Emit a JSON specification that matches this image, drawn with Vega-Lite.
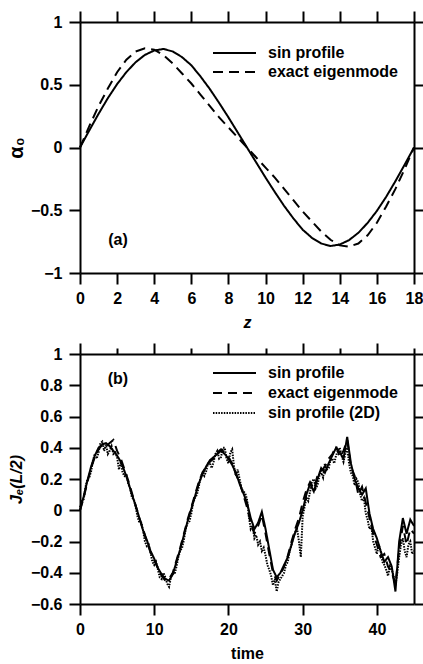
{
  "$schema": "https://vega.github.io/schema/vega-lite/v6.json",
  "background": "white",
  "padding": {"left": 6, "top": 10, "right": 0, "bottom": 0},
  "config": {
    "font": "Liberation Sans",
    "view": {"stroke": null},
    "axis": {
      "domainColor": "black", "domainWidth": 2,
      "tickColor": "black", "tickWidth": 2, "tickSize": 11,
      "labelFont": "Liberation Sans", "labelFontSize": 16, "labelFontWeight": "bold", "labelColor": "black",
      "titleFont": "Liberation Sans", "titleFontSize": 16, "titleFontWeight": "bold", "titleColor": "black",
      "grid": false, "labelFlush": false, "labelOverlap": false, "format": "~f"
    },
    "axisX": {"labelPadding": 6, "titlePadding": 8},
    "axisY": {"labelPadding": 7, "titlePadding": 6},
    "legend": {
      "orient": "none", "title": null, "symbolType": "stroke", "symbolSize": 1849,
      "symbolStrokeWidth": 2, "symbolStrokeColor": "black",
      "labelFont": "Liberation Sans", "labelFontSize": 16, "labelFontWeight": "bold", "labelColor": "black",
      "labelOffset": 11, "rowPadding": 0, "padding": 0
    }
  },
  "datasets": {
    "top": [
      {"z":0,"v":0,"s":"sin profile"},{"z":0.5,"v":0.136,"s":"sin profile"},{"z":1,"v":0.268,"s":"sin profile"},{"z":1.5,"v":0.393,"s":"sin profile"},{"z":2,"v":0.505,"s":"sin profile"},{"z":2.5,"v":0.601,"s":"sin profile"},{"z":3,"v":0.68,"s":"sin profile"},{"z":3.5,"v":0.738,"s":"sin profile"},{"z":4,"v":0.773,"s":"sin profile"},{"z":4.5,"v":0.785,"s":"sin profile"},{"z":5,"v":0.765,"s":"sin profile"},{"z":5.5,"v":0.72,"s":"sin profile"},{"z":6,"v":0.655,"s":"sin profile"},{"z":6.5,"v":0.565,"s":"sin profile"},{"z":7,"v":0.465,"s":"sin profile"},{"z":7.5,"v":0.355,"s":"sin profile"},{"z":8,"v":0.24,"s":"sin profile"},{"z":8.5,"v":0.12,"s":"sin profile"},{"z":9,"v":0,"s":"sin profile"},{"z":9.5,"v":-0.12,"s":"sin profile"},{"z":10,"v":-0.24,"s":"sin profile"},{"z":10.5,"v":-0.355,"s":"sin profile"},{"z":11,"v":-0.465,"s":"sin profile"},{"z":11.5,"v":-0.565,"s":"sin profile"},{"z":12,"v":-0.655,"s":"sin profile"},{"z":12.5,"v":-0.72,"s":"sin profile"},{"z":13,"v":-0.765,"s":"sin profile"},{"z":13.5,"v":-0.785,"s":"sin profile"},{"z":14,"v":-0.773,"s":"sin profile"},{"z":14.5,"v":-0.738,"s":"sin profile"},{"z":15,"v":-0.68,"s":"sin profile"},{"z":15.5,"v":-0.601,"s":"sin profile"},{"z":16,"v":-0.505,"s":"sin profile"},{"z":16.5,"v":-0.393,"s":"sin profile"},{"z":17,"v":-0.268,"s":"sin profile"},{"z":17.5,"v":-0.136,"s":"sin profile"},{"z":18,"v":0,"s":"sin profile"},
      {"z":0,"v":0,"s":"exact eigenmode"},{"z":0.5,"v":0.17,"s":"exact eigenmode"},{"z":1,"v":0.33,"s":"exact eigenmode"},{"z":1.5,"v":0.47,"s":"exact eigenmode"},{"z":2,"v":0.6,"s":"exact eigenmode"},{"z":2.5,"v":0.7,"s":"exact eigenmode"},{"z":3,"v":0.765,"s":"exact eigenmode"},{"z":3.5,"v":0.79,"s":"exact eigenmode"},{"z":4,"v":0.78,"s":"exact eigenmode"},{"z":4.5,"v":0.735,"s":"exact eigenmode"},{"z":5,"v":0.67,"s":"exact eigenmode"},{"z":5.5,"v":0.59,"s":"exact eigenmode"},{"z":6,"v":0.51,"s":"exact eigenmode"},{"z":6.5,"v":0.42,"s":"exact eigenmode"},{"z":7,"v":0.33,"s":"exact eigenmode"},{"z":7.5,"v":0.24,"s":"exact eigenmode"},{"z":8,"v":0.16,"s":"exact eigenmode"},{"z":8.5,"v":0.08,"s":"exact eigenmode"},{"z":9,"v":0,"s":"exact eigenmode"},{"z":9.5,"v":-0.08,"s":"exact eigenmode"},{"z":10,"v":-0.16,"s":"exact eigenmode"},{"z":10.5,"v":-0.24,"s":"exact eigenmode"},{"z":11,"v":-0.33,"s":"exact eigenmode"},{"z":11.5,"v":-0.42,"s":"exact eigenmode"},{"z":12,"v":-0.51,"s":"exact eigenmode"},{"z":12.5,"v":-0.59,"s":"exact eigenmode"},{"z":13,"v":-0.67,"s":"exact eigenmode"},{"z":13.5,"v":-0.735,"s":"exact eigenmode"},{"z":14,"v":-0.78,"s":"exact eigenmode"},{"z":14.5,"v":-0.79,"s":"exact eigenmode"},{"z":15,"v":-0.765,"s":"exact eigenmode"},{"z":15.5,"v":-0.7,"s":"exact eigenmode"},{"z":16,"v":-0.6,"s":"exact eigenmode"},{"z":16.5,"v":-0.47,"s":"exact eigenmode"},{"z":17,"v":-0.33,"s":"exact eigenmode"},{"z":17.5,"v":-0.17,"s":"exact eigenmode"},{"z":18,"v":0,"s":"exact eigenmode"}
    ],
    "bot": [
      {"t":0,"j":0,"s":"sin profile"},{"t":0.5,"j":0.09,"s":"sin profile"},{"t":1,"j":0.19,"s":"sin profile"},{"t":1.5,"j":0.28,"s":"sin profile"},{"t":2,"j":0.35,"s":"sin profile"},{"t":2.5,"j":0.4,"s":"sin profile"},{"t":3,"j":0.42,"s":"sin profile"},{"t":3.5,"j":0.43,"s":"sin profile"},{"t":4,"j":0.41,"s":"sin profile"},{"t":4.5,"j":0.38,"s":"sin profile"},{"t":5,"j":0.35,"s":"sin profile"},{"t":5.5,"j":0.31,"s":"sin profile"},{"t":6,"j":0.25,"s":"sin profile"},{"t":6.5,"j":0.18,"s":"sin profile"},{"t":7,"j":0.1,"s":"sin profile"},{"t":7.5,"j":0.03,"s":"sin profile"},{"t":8,"j":-0.05,"s":"sin profile"},{"t":8.5,"j":-0.13,"s":"sin profile"},{"t":9,"j":-0.19,"s":"sin profile"},{"t":9.5,"j":-0.26,"s":"sin profile"},{"t":10,"j":-0.31,"s":"sin profile"},{"t":10.5,"j":-0.37,"s":"sin profile"},{"t":11,"j":-0.41,"s":"sin profile"},{"t":11.5,"j":-0.44,"s":"sin profile"},{"t":12,"j":-0.45,"s":"sin profile"},{"t":12.5,"j":-0.41,"s":"sin profile"},{"t":13,"j":-0.33,"s":"sin profile"},{"t":13.5,"j":-0.25,"s":"sin profile"},{"t":14,"j":-0.16,"s":"sin profile"},{"t":14.5,"j":-0.07,"s":"sin profile"},{"t":15,"j":0.01,"s":"sin profile"},{"t":15.5,"j":0.09,"s":"sin profile"},{"t":16,"j":0.17,"s":"sin profile"},{"t":16.5,"j":0.23,"s":"sin profile"},{"t":17,"j":0.28,"s":"sin profile"},{"t":17.5,"j":0.32,"s":"sin profile"},{"t":18,"j":0.34,"s":"sin profile"},{"t":18.5,"j":0.36,"s":"sin profile"},{"t":19,"j":0.38,"s":"sin profile"},{"t":19.5,"j":0.36,"s":"sin profile"},{"t":20,"j":0.33,"s":"sin profile"},{"t":20.5,"j":0.29,"s":"sin profile"},{"t":21,"j":0.24,"s":"sin profile"},{"t":21.5,"j":0.17,"s":"sin profile"},{"t":22,"j":0.11,"s":"sin profile"},{"t":22.5,"j":0.05,"s":"sin profile"},{"t":23,"j":-0.05,"s":"sin profile"},{"t":23.5,"j":-0.12,"s":"sin profile"},{"t":24,"j":-0.08,"s":"sin profile"},{"t":24.5,"j":-0.01,"s":"sin profile"},{"t":25,"j":-0.12,"s":"sin profile"},{"t":25.5,"j":-0.25,"s":"sin profile"},{"t":26,"j":-0.38,"s":"sin profile"},{"t":26.5,"j":-0.43,"s":"sin profile"},{"t":27,"j":-0.4,"s":"sin profile"},{"t":27.5,"j":-0.35,"s":"sin profile"},{"t":28,"j":-0.3,"s":"sin profile"},{"t":28.5,"j":-0.22,"s":"sin profile"},{"t":29,"j":-0.14,"s":"sin profile"},{"t":29.5,"j":-0.08,"s":"sin profile"},{"t":30,"j":0,"s":"sin profile"},{"t":30.5,"j":0.1,"s":"sin profile"},{"t":31,"j":0.17,"s":"sin profile"},{"t":31.5,"j":0.12,"s":"sin profile"},{"t":32,"j":0.2,"s":"sin profile"},{"t":32.5,"j":0.27,"s":"sin profile"},{"t":33,"j":0.24,"s":"sin profile"},{"t":33.5,"j":0.3,"s":"sin profile"},{"t":34,"j":0.35,"s":"sin profile"},{"t":34.5,"j":0.4,"s":"sin profile"},{"t":35,"j":0.37,"s":"sin profile"},{"t":35.5,"j":0.33,"s":"sin profile"},{"t":36,"j":0.47,"s":"sin profile"},{"t":36.5,"j":0.3,"s":"sin profile"},{"t":37,"j":0.2,"s":"sin profile"},{"t":37.5,"j":0.14,"s":"sin profile"},{"t":38,"j":0.1,"s":"sin profile"},{"t":38.5,"j":0.14,"s":"sin profile"},{"t":39,"j":-0.02,"s":"sin profile"},{"t":39.5,"j":-0.12,"s":"sin profile"},{"t":40,"j":-0.18,"s":"sin profile"},{"t":40.5,"j":-0.26,"s":"sin profile"},{"t":41,"j":-0.33,"s":"sin profile"},{"t":41.5,"j":-0.3,"s":"sin profile"},{"t":42,"j":-0.36,"s":"sin profile"},{"t":42.5,"j":-0.52,"s":"sin profile"},{"t":43,"j":-0.2,"s":"sin profile"},{"t":43.5,"j":-0.05,"s":"sin profile"},{"t":44,"j":-0.15,"s":"sin profile"},{"t":44.5,"j":-0.06,"s":"sin profile"},{"t":45,"j":-0.1,"s":"sin profile"},
      {"t":0,"j":0,"s":"exact eigenmode"},{"t":0.5,"j":0.08,"s":"exact eigenmode"},{"t":1,"j":0.18,"s":"exact eigenmode"},{"t":1.5,"j":0.27,"s":"exact eigenmode"},{"t":2,"j":0.34,"s":"exact eigenmode"},{"t":2.5,"j":0.39,"s":"exact eigenmode"},{"t":3,"j":0.42,"s":"exact eigenmode"},{"t":3.5,"j":0.41,"s":"exact eigenmode"},{"t":4,"j":0.43,"s":"exact eigenmode"},{"t":4.5,"j":0.45,"s":"exact eigenmode"},{"t":5,"j":0.38,"s":"exact eigenmode"},{"t":5.5,"j":0.33,"s":"exact eigenmode"},{"t":6,"j":0.26,"s":"exact eigenmode"},{"t":6.5,"j":0.19,"s":"exact eigenmode"},{"t":7,"j":0.11,"s":"exact eigenmode"},{"t":7.5,"j":0.03,"s":"exact eigenmode"},{"t":8,"j":-0.05,"s":"exact eigenmode"},{"t":8.5,"j":-0.12,"s":"exact eigenmode"},{"t":9,"j":-0.2,"s":"exact eigenmode"},{"t":9.5,"j":-0.27,"s":"exact eigenmode"},{"t":10,"j":-0.32,"s":"exact eigenmode"},{"t":10.5,"j":-0.37,"s":"exact eigenmode"},{"t":11,"j":-0.42,"s":"exact eigenmode"},{"t":11.5,"j":-0.45,"s":"exact eigenmode"},{"t":12,"j":-0.44,"s":"exact eigenmode"},{"t":12.5,"j":-0.4,"s":"exact eigenmode"},{"t":13,"j":-0.32,"s":"exact eigenmode"},{"t":13.5,"j":-0.24,"s":"exact eigenmode"},{"t":14,"j":-0.15,"s":"exact eigenmode"},{"t":14.5,"j":-0.06,"s":"exact eigenmode"},{"t":15,"j":0.02,"s":"exact eigenmode"},{"t":15.5,"j":0.1,"s":"exact eigenmode"},{"t":16,"j":0.18,"s":"exact eigenmode"},{"t":16.5,"j":0.24,"s":"exact eigenmode"},{"t":17,"j":0.28,"s":"exact eigenmode"},{"t":17.5,"j":0.31,"s":"exact eigenmode"},{"t":18,"j":0.33,"s":"exact eigenmode"},{"t":18.5,"j":0.37,"s":"exact eigenmode"},{"t":19,"j":0.39,"s":"exact eigenmode"},{"t":19.5,"j":0.37,"s":"exact eigenmode"},{"t":20,"j":0.34,"s":"exact eigenmode"},{"t":20.5,"j":0.3,"s":"exact eigenmode"},{"t":21,"j":0.23,"s":"exact eigenmode"},{"t":21.5,"j":0.18,"s":"exact eigenmode"},{"t":22,"j":0.1,"s":"exact eigenmode"},{"t":22.5,"j":0.02,"s":"exact eigenmode"},{"t":23,"j":-0.08,"s":"exact eigenmode"},{"t":23.5,"j":-0.15,"s":"exact eigenmode"},{"t":24,"j":-0.1,"s":"exact eigenmode"},{"t":24.5,"j":-0.03,"s":"exact eigenmode"},{"t":25,"j":-0.15,"s":"exact eigenmode"},{"t":25.5,"j":-0.28,"s":"exact eigenmode"},{"t":26,"j":-0.4,"s":"exact eigenmode"},{"t":26.5,"j":-0.45,"s":"exact eigenmode"},{"t":27,"j":-0.41,"s":"exact eigenmode"},{"t":27.5,"j":-0.36,"s":"exact eigenmode"},{"t":28,"j":-0.29,"s":"exact eigenmode"},{"t":28.5,"j":-0.2,"s":"exact eigenmode"},{"t":29,"j":-0.12,"s":"exact eigenmode"},{"t":29.5,"j":-0.05,"s":"exact eigenmode"},{"t":30,"j":0.05,"s":"exact eigenmode"},{"t":30.5,"j":0.13,"s":"exact eigenmode"},{"t":31,"j":0.18,"s":"exact eigenmode"},{"t":31.5,"j":0.14,"s":"exact eigenmode"},{"t":32,"j":0.22,"s":"exact eigenmode"},{"t":32.5,"j":0.25,"s":"exact eigenmode"},{"t":33,"j":0.28,"s":"exact eigenmode"},{"t":33.5,"j":0.33,"s":"exact eigenmode"},{"t":34,"j":0.36,"s":"exact eigenmode"},{"t":34.5,"j":0.41,"s":"exact eigenmode"},{"t":35,"j":0.34,"s":"exact eigenmode"},{"t":35.5,"j":0.38,"s":"exact eigenmode"},{"t":36,"j":0.45,"s":"exact eigenmode"},{"t":36.5,"j":0.28,"s":"exact eigenmode"},{"t":37,"j":0.22,"s":"exact eigenmode"},{"t":37.5,"j":0.1,"s":"exact eigenmode"},{"t":38,"j":0.15,"s":"exact eigenmode"},{"t":38.5,"j":0.05,"s":"exact eigenmode"},{"t":39,"j":-0.05,"s":"exact eigenmode"},{"t":39.5,"j":-0.15,"s":"exact eigenmode"},{"t":40,"j":-0.22,"s":"exact eigenmode"},{"t":40.5,"j":-0.3,"s":"exact eigenmode"},{"t":41,"j":-0.28,"s":"exact eigenmode"},{"t":41.5,"j":-0.36,"s":"exact eigenmode"},{"t":42,"j":-0.4,"s":"exact eigenmode"},{"t":42.5,"j":-0.47,"s":"exact eigenmode"},{"t":43,"j":-0.25,"s":"exact eigenmode"},{"t":43.5,"j":-0.1,"s":"exact eigenmode"},{"t":44,"j":-0.22,"s":"exact eigenmode"},{"t":44.5,"j":-0.12,"s":"exact eigenmode"},{"t":45,"j":-0.15,"s":"exact eigenmode"},
      {"t":0,"j":0.02,"s":"sin profile (2D)"},{"t":0.25,"j":0.06,"s":"sin profile (2D)"},{"t":0.5,"j":0.07,"s":"sin profile (2D)"},{"t":0.75,"j":0.15,"s":"sin profile (2D)"},{"t":1,"j":0.2,"s":"sin profile (2D)"},{"t":1.25,"j":0.21,"s":"sin profile (2D)"},{"t":1.5,"j":0.25,"s":"sin profile (2D)"},{"t":1.75,"j":0.32,"s":"sin profile (2D)"},{"t":2,"j":0.36,"s":"sin profile (2D)"},{"t":2.25,"j":0.33,"s":"sin profile (2D)"},{"t":2.5,"j":0.37,"s":"sin profile (2D)"},{"t":2.75,"j":0.43,"s":"sin profile (2D)"},{"t":3,"j":0.44,"s":"sin profile (2D)"},{"t":3.25,"j":0.38,"s":"sin profile (2D)"},{"t":3.5,"j":0.42,"s":"sin profile (2D)"},{"t":3.75,"j":0.36,"s":"sin profile (2D)"},{"t":4,"j":0.38,"s":"sin profile (2D)"},{"t":4.25,"j":0.41,"s":"sin profile (2D)"},{"t":4.5,"j":0.36,"s":"sin profile (2D)"},{"t":4.75,"j":0.37,"s":"sin profile (2D)"},{"t":5,"j":0.34,"s":"sin profile (2D)"},{"t":5.25,"j":0.26,"s":"sin profile (2D)"},{"t":5.5,"j":0.31,"s":"sin profile (2D)"},{"t":5.75,"j":0.24,"s":"sin profile (2D)"},{"t":6,"j":0.22,"s":"sin profile (2D)"},{"t":6.25,"j":0.23,"s":"sin profile (2D)"},{"t":6.5,"j":0.17,"s":"sin profile (2D)"},{"t":6.75,"j":0.14,"s":"sin profile (2D)"},{"t":7,"j":0.08,"s":"sin profile (2D)"},{"t":7.25,"j":0.07,"s":"sin profile (2D)"},{"t":7.5,"j":0.02,"s":"sin profile (2D)"},{"t":7.75,"j":-0.04,"s":"sin profile (2D)"},{"t":8,"j":-0.08,"s":"sin profile (2D)"},{"t":8.25,"j":-0.08,"s":"sin profile (2D)"},{"t":8.5,"j":-0.13,"s":"sin profile (2D)"},{"t":8.75,"j":-0.2,"s":"sin profile (2D)"},{"t":9,"j":-0.23,"s":"sin profile (2D)"},{"t":9.25,"j":-0.22,"s":"sin profile (2D)"},{"t":9.5,"j":-0.27,"s":"sin profile (2D)"},{"t":9.75,"j":-0.33,"s":"sin profile (2D)"},{"t":10,"j":-0.35,"s":"sin profile (2D)"},{"t":10.25,"j":-0.33,"s":"sin profile (2D)"},{"t":10.5,"j":-0.38,"s":"sin profile (2D)"},{"t":10.75,"j":-0.43,"s":"sin profile (2D)"},{"t":11,"j":-0.44,"s":"sin profile (2D)"},{"t":11.25,"j":-0.4,"s":"sin profile (2D)"},{"t":11.5,"j":-0.43,"s":"sin profile (2D)"},{"t":11.75,"j":-0.47,"s":"sin profile (2D)"},{"t":12,"j":-0.49,"s":"sin profile (2D)"},{"t":12.25,"j":-0.43,"s":"sin profile (2D)"},{"t":12.5,"j":-0.4,"s":"sin profile (2D)"},{"t":12.75,"j":-0.41,"s":"sin profile (2D)"},{"t":13,"j":-0.36,"s":"sin profile (2D)"},{"t":13.25,"j":-0.3,"s":"sin profile (2D)"},{"t":13.5,"j":-0.26,"s":"sin profile (2D)"},{"t":13.75,"j":-0.24,"s":"sin profile (2D)"},{"t":14,"j":-0.19,"s":"sin profile (2D)"},{"t":14.25,"j":-0.12,"s":"sin profile (2D)"},{"t":14.5,"j":-0.08,"s":"sin profile (2D)"},{"t":14.75,"j":-0.07,"s":"sin profile (2D)"},{"t":15,"j":-0.02,"s":"sin profile (2D)"},{"t":15.25,"j":0.05,"s":"sin profile (2D)"},{"t":15.5,"j":0.08,"s":"sin profile (2D)"},{"t":15.75,"j":0.1,"s":"sin profile (2D)"},{"t":16,"j":0.15,"s":"sin profile (2D)"},{"t":16.25,"j":0.21,"s":"sin profile (2D)"},{"t":16.5,"j":0.24,"s":"sin profile (2D)"},{"t":16.75,"j":0.22,"s":"sin profile (2D)"},{"t":17,"j":0.25,"s":"sin profile (2D)"},{"t":17.25,"j":0.3,"s":"sin profile (2D)"},{"t":17.5,"j":0.3,"s":"sin profile (2D)"},{"t":17.75,"j":0.27,"s":"sin profile (2D)"},{"t":18,"j":0.31,"s":"sin profile (2D)"},{"t":18.25,"j":0.36,"s":"sin profile (2D)"},{"t":18.5,"j":0.38,"s":"sin profile (2D)"},{"t":18.75,"j":0.33,"s":"sin profile (2D)"},{"t":19,"j":0.34,"s":"sin profile (2D)"},{"t":19.25,"j":0.4,"s":"sin profile (2D)"},{"t":19.5,"j":0.4,"s":"sin profile (2D)"},{"t":19.75,"j":0.33,"s":"sin profile (2D)"},{"t":20,"j":0.3,"s":"sin profile (2D)"},{"t":20.25,"j":0.37,"s":"sin profile (2D)"},{"t":20.5,"j":0.39,"s":"sin profile (2D)"},{"t":20.75,"j":0.28,"s":"sin profile (2D)"},{"t":21,"j":0.22,"s":"sin profile (2D)"},{"t":21.25,"j":0.26,"s":"sin profile (2D)"},{"t":21.5,"j":0.2,"s":"sin profile (2D)"},{"t":21.75,"j":0.14,"s":"sin profile (2D)"},{"t":22,"j":0.12,"s":"sin profile (2D)"},{"t":22.25,"j":0.11,"s":"sin profile (2D)"},{"t":22.5,"j":0.07,"s":"sin profile (2D)"},{"t":22.75,"j":-0.04,"s":"sin profile (2D)"},{"t":23,"j":-0.12,"s":"sin profile (2D)"},{"t":23.25,"j":-0.1,"s":"sin profile (2D)"},{"t":23.5,"j":-0.18,"s":"sin profile (2D)"},{"t":23.75,"j":-0.16,"s":"sin profile (2D)"},{"t":24,"j":-0.22,"s":"sin profile (2D)"},{"t":24.25,"j":-0.2,"s":"sin profile (2D)"},{"t":24.5,"j":-0.26,"s":"sin profile (2D)"},{"t":24.75,"j":-0.24,"s":"sin profile (2D)"},{"t":25,"j":-0.29,"s":"sin profile (2D)"},{"t":25.25,"j":-0.35,"s":"sin profile (2D)"},{"t":25.5,"j":-0.38,"s":"sin profile (2D)"},{"t":25.75,"j":-0.42,"s":"sin profile (2D)"},{"t":26,"j":-0.48,"s":"sin profile (2D)"},{"t":26.25,"j":-0.44,"s":"sin profile (2D)"},{"t":26.5,"j":-0.52,"s":"sin profile (2D)"},{"t":26.75,"j":-0.46,"s":"sin profile (2D)"},{"t":27,"j":-0.44,"s":"sin profile (2D)"},{"t":27.25,"j":-0.42,"s":"sin profile (2D)"},{"t":27.5,"j":-0.4,"s":"sin profile (2D)"},{"t":27.75,"j":-0.35,"s":"sin profile (2D)"},{"t":28,"j":-0.33,"s":"sin profile (2D)"},{"t":28.25,"j":-0.26,"s":"sin profile (2D)"},{"t":28.5,"j":-0.22,"s":"sin profile (2D)"},{"t":28.75,"j":-0.17,"s":"sin profile (2D)"},{"t":29,"j":-0.14,"s":"sin profile (2D)"},{"t":29.25,"j":-0.12,"s":"sin profile (2D)"},{"t":29.5,"j":-0.2,"s":"sin profile (2D)"},{"t":29.75,"j":-0.3,"s":"sin profile (2D)"},{"t":30,"j":-0.04,"s":"sin profile (2D)"},{"t":30.25,"j":0.02,"s":"sin profile (2D)"},{"t":30.5,"j":0.08,"s":"sin profile (2D)"},{"t":30.75,"j":0.06,"s":"sin profile (2D)"},{"t":31,"j":0.12,"s":"sin profile (2D)"},{"t":31.25,"j":0.18,"s":"sin profile (2D)"},{"t":31.5,"j":0.2,"s":"sin profile (2D)"},{"t":31.75,"j":0.14,"s":"sin profile (2D)"},{"t":32,"j":0.16,"s":"sin profile (2D)"},{"t":32.25,"j":0.22,"s":"sin profile (2D)"},{"t":32.5,"j":0.24,"s":"sin profile (2D)"},{"t":32.75,"j":0.21,"s":"sin profile (2D)"},{"t":33,"j":0.3,"s":"sin profile (2D)"},{"t":33.25,"j":0.26,"s":"sin profile (2D)"},{"t":33.5,"j":0.27,"s":"sin profile (2D)"},{"t":33.75,"j":0.32,"s":"sin profile (2D)"},{"t":34,"j":0.33,"s":"sin profile (2D)"},{"t":34.25,"j":0.3,"s":"sin profile (2D)"},{"t":34.5,"j":0.35,"s":"sin profile (2D)"},{"t":34.75,"j":0.38,"s":"sin profile (2D)"},{"t":35,"j":0.4,"s":"sin profile (2D)"},{"t":35.25,"j":0.35,"s":"sin profile (2D)"},{"t":35.5,"j":0.31,"s":"sin profile (2D)"},{"t":35.75,"j":0.36,"s":"sin profile (2D)"},{"t":36,"j":0.4,"s":"sin profile (2D)"},{"t":36.25,"j":0.3,"s":"sin profile (2D)"},{"t":36.5,"j":0.24,"s":"sin profile (2D)"},{"t":36.75,"j":0.22,"s":"sin profile (2D)"},{"t":37,"j":0.16,"s":"sin profile (2D)"},{"t":37.25,"j":0.2,"s":"sin profile (2D)"},{"t":37.5,"j":0.18,"s":"sin profile (2D)"},{"t":37.75,"j":0.1,"s":"sin profile (2D)"},{"t":38,"j":0.06,"s":"sin profile (2D)"},{"t":38.25,"j":0.08,"s":"sin profile (2D)"},{"t":38.5,"j":-0.02,"s":"sin profile (2D)"},{"t":38.75,"j":-0.06,"s":"sin profile (2D)"},{"t":39,"j":-0.12,"s":"sin profile (2D)"},{"t":39.25,"j":-0.1,"s":"sin profile (2D)"},{"t":39.5,"j":-0.2,"s":"sin profile (2D)"},{"t":39.75,"j":-0.24,"s":"sin profile (2D)"},{"t":40,"j":-0.28,"s":"sin profile (2D)"},{"t":40.25,"j":-0.22,"s":"sin profile (2D)"},{"t":40.5,"j":-0.26,"s":"sin profile (2D)"},{"t":40.75,"j":-0.33,"s":"sin profile (2D)"},{"t":41,"j":-0.35,"s":"sin profile (2D)"},{"t":41.25,"j":-0.38,"s":"sin profile (2D)"},{"t":41.5,"j":-0.42,"s":"sin profile (2D)"},{"t":41.75,"j":-0.36,"s":"sin profile (2D)"},{"t":42,"j":-0.38,"s":"sin profile (2D)"},{"t":42.25,"j":-0.42,"s":"sin profile (2D)"},{"t":42.5,"j":-0.48,"s":"sin profile (2D)"},{"t":42.75,"j":-0.4,"s":"sin profile (2D)"},{"t":43,"j":-0.3,"s":"sin profile (2D)"},{"t":43.25,"j":-0.22,"s":"sin profile (2D)"},{"t":43.5,"j":-0.18,"s":"sin profile (2D)"},{"t":43.75,"j":-0.26,"s":"sin profile (2D)"},{"t":44,"j":-0.3,"s":"sin profile (2D)"},{"t":44.25,"j":-0.22,"s":"sin profile (2D)"},{"t":44.5,"j":-0.2,"s":"sin profile (2D)"},{"t":44.75,"j":-0.28,"s":"sin profile (2D)"},{"t":45,"j":-0.26,"s":"sin profile (2D)"}
    ]
  },
  "vconcat": [
    {
      "width": 334, "height": 251,
      "layer": [
        {
          "data": {"name": "top"},
          "mark": {"type": "line", "color": "black", "strokeWidth": 2},
          "encoding": {
            "x": {"field": "z", "type": "quantitative", "scale": {"domain": [0, 18], "nice": false},
                  "axis": {"values": [0,2,4,6,8,10,12,14,16,18], "title": "z", "titleFontStyle": "italic"}},
            "y": {"field": "v", "type": "quantitative", "scale": {"domain": [-1, 1], "nice": false},
                  "axis": {"values": [-1,-0.5,0,0.5,1], "title": "α₀", "titleFontSize": 20, "titlePadding": 4}},
            "strokeDash": {"field": "s", "type": "nominal",
              "scale": {"domain": ["sin profile", "exact eigenmode"], "range": [[1, 0], [10, 6]]},
              "legend": {"legendX": 132, "legendY": 21.5, "clipHeight": 19}}
          }
        },
        {
          "data": {"name": "top"},
          "mark": {"type": "line", "opacity": 0},
          "encoding": {
            "x": {"field": "z", "type": "quantitative", "axis": {"orient": "top", "values": [0,2,4,6,8,10,12,14,16,18], "labels": false, "title": null}},
            "y": {"field": "v", "type": "quantitative", "axis": {"orient": "right", "values": [-1,-0.5,0,0.5,1], "labels": false, "title": null}}
          }
        },
        {
          "data": {"values": [{"label": "(a)", "z": 2.05, "v": -0.74}]},
          "mark": {"type": "text", "font": "Liberation Sans", "fontSize": 16, "fontWeight": "bold", "color": "black"},
          "encoding": {
            "x": {"field": "z", "type": "quantitative", "axis": null},
            "y": {"field": "v", "type": "quantitative", "axis": null},
            "text": {"field": "label"}
          }
        }
      ],
      "resolve": {"axis": {"x": "independent", "y": "independent"}}
    },
    {
      "width": 334, "height": 250,
      "layer": [
        {
          "data": {"name": "bot"},
          "mark": {"type": "line", "color": "black", "strokeWidth": 2},
          "encoding": {
            "x": {"field": "t", "type": "quantitative", "scale": {"domain": [0, 45], "nice": false},
                  "axis": {"values": [0,10,20,30,40], "title": "time"}},
            "y": {"field": "j", "type": "quantitative", "scale": {"domain": [-0.6, 1], "nice": false},
                  "axis": {"values": [-0.6,-0.4,-0.2,0,0.2,0.4,0.6,0.8,1], "title": "Jₑ(L/2)", "titleFontStyle": "italic"}},
            "strokeDash": {"field": "s", "type": "nominal",
              "scale": {"domain": ["sin profile", "exact eigenmode", "sin profile (2D)"], "range": [[1, 0], [9, 6], [1.5, 1.2]]},
              "legend": {"legendX": 132, "legendY": 9, "clipHeight": 20}}
          }
        },
        {
          "data": {"name": "bot"},
          "mark": {"type": "line", "opacity": 0},
          "encoding": {
            "x": {"field": "t", "type": "quantitative", "axis": {"orient": "top", "values": [0,5,10,15,20,25,30,35,40,45], "labels": false, "title": null,
                  "tickSize": {"condition": {"test": "datum.value % 10 === 0", "value": 11}, "value": 6}}},
            "y": {"field": "j", "type": "quantitative", "axis": {"orient": "right", "values": [-0.6,-0.4,-0.2,0,0.2,0.4,0.6,0.8,1], "labels": false, "title": null}}
          }
        },
        {
          "data": {"values": [{"label": "(b)", "t": 5.1, "j": 0.84}]},
          "mark": {"type": "text", "font": "Liberation Sans", "fontSize": 16, "fontWeight": "bold", "color": "black"},
          "encoding": {
            "x": {"field": "t", "type": "quantitative", "axis": null},
            "y": {"field": "j", "type": "quantitative", "axis": null},
            "text": {"field": "label"}
          }
        }
      ],
      "resolve": {"axis": {"x": "independent", "y": "independent"}}
    }
  ],
  "spacing": 12,
  "resolve": {"scale": {"strokeDash": "independent"}, "legend": {"strokeDash": "independent"}}
}
